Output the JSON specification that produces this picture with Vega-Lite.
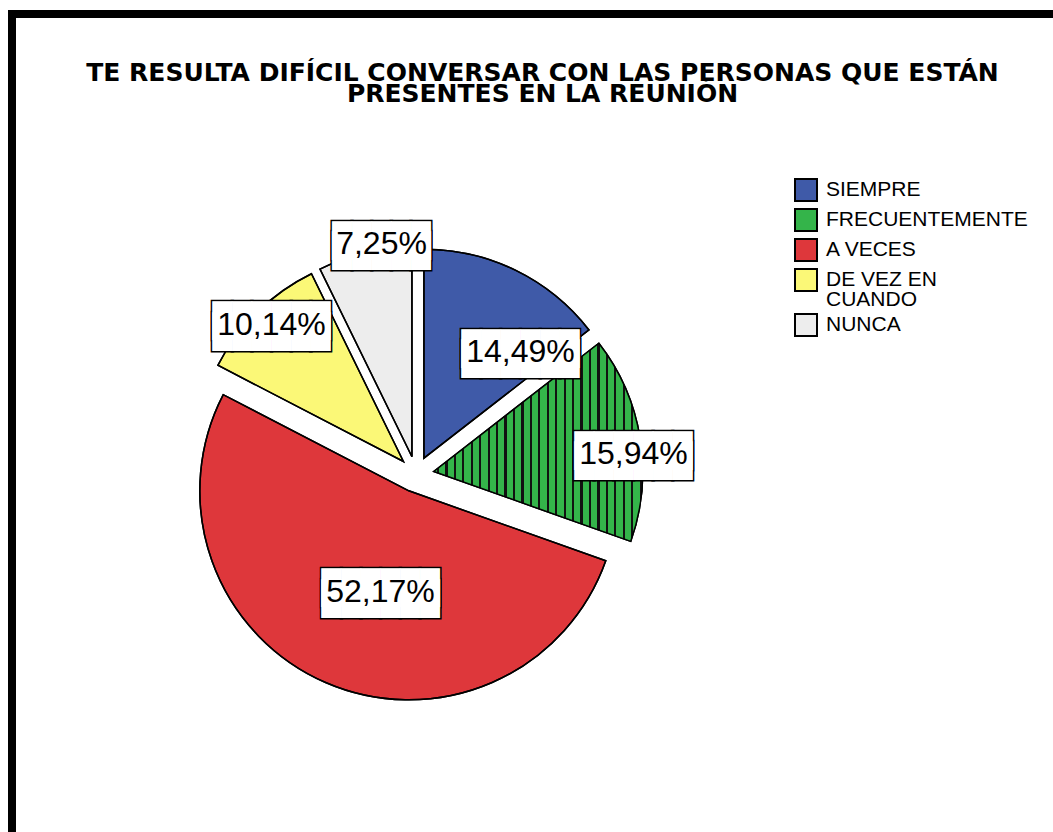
{
  "$schema": "https://vega.github.io/schema/vega-lite/v6.json",
  "width": 1041,
  "height": 818,
  "autosize": {"type": "none"},
  "padding": {"left": 12, "top": 14, "right": 0, "bottom": 0},
  "background": "white",
  "title": {
    "text": ["TE RESULTA DIFÍCIL CONVERSAR CON LAS PERSONAS QUE ESTÁN", "PRESENTES EN LA REUNIÓN"],
    "font": "DejaVu Sans",
    "fontSize": 25,
    "fontWeight": "bold",
    "color": "black",
    "anchor": "middle",
    "frame": "group",
    "baseline": "alphabetic",
    "lineHeight": 21.5,
    "offset": -117,
    "dx": 10
  },
  "data": {
    "values": [
      {"cat": "SIEMPRE", "pct": 14.49, "label": "14,49%", "order": 1},
      {"cat": "FRECUENTEMENTE", "pct": 15.94, "label": "15,94%", "order": 2},
      {"cat": "A VECES", "pct": 52.17, "label": "52,17%", "order": 3},
      {"cat": "DE VEZ EN CUANDO", "pct": 10.14, "label": "10,14%", "order": 4},
      {"cat": "NUNCA", "pct": 7.25, "label": "7,25%", "order": 5}
    ]
  },
  "layer": [
    {
      "mark": {"type": "rect", "fill": "black", "strokeWidth": 0, "x": {"expr": "-4"}, "x2": {"expr": "4"}, "y": {"expr": "-4"}, "y2": {"expr": "height"}},
      "encoding": {}
    },
    {
      "mark": {"type": "rect", "fill": "black", "strokeWidth": 0, "x": {"expr": "-4"}, "x2": {"expr": "width"}, "y": {"expr": "-4"}, "y2": {"expr": "4"}},
      "encoding": {}
    },
    {
      "mark": {
        "type": "arc",
        "radius": 209,
        "stroke": "black",
        "strokeWidth": 1.5,
        "x": {"expr": "404 + 18*sin(PI*(datum.pct_start+datum.pct_end)/99.99)"},
        "y": {"expr": "460.3 - 18*cos(PI*(datum.pct_start+datum.pct_end)/99.99)"}
      },
      "encoding": {
        "theta": {"field": "pct", "type": "quantitative", "stack": true, "scale": {"domain": [0, 99.99]}},
        "order": {"field": "order", "type": "quantitative"},
        "color": {
          "field": "cat",
          "type": "nominal",
          "scale": {
            "domain": ["SIEMPRE", "FRECUENTEMENTE", "A VECES", "DE VEZ EN CUANDO", "NUNCA"],
            "range": ["#3F5AA8", "#34B44A", "#DE373B", "#FBF877", "#EDEDED"]
          },
          "legend": {
            "orient": "none",
            "legendX": 782,
            "legendY": 164,
            "title": null,
            "padding": 0,
            "symbolType": "square",
            "symbolSize": 484,
            "symbolStrokeColor": "black",
            "symbolStrokeWidth": 2,
            "symbolOpacity": 1,
            "labelFont": "Liberation Sans",
            "labelFontSize": 21,
            "labelColor": "black",
            "labelOffset": 8,
            "labelLimit": 400,
            "rowPadding": 0,
            "labelExpr": "datum.label == 'DE VEZ EN CUANDO' ? ['DE VEZ EN', 'CUANDO'] : datum.label"
          }
        }
      }
    },
    {
      "mark": {
        "type": "arc",
        "radius": 209,
        "stroke": "black",
        "strokeWidth": 1.5,
        "x": {"expr": "404 + 18*sin(PI*(datum.pct_start+datum.pct_end)/99.99)"},
        "y": {"expr": "460.3 - 18*cos(PI*(datum.pct_start+datum.pct_end)/99.99)"}
      },
      "encoding": {
        "theta": {"field": "pct", "type": "quantitative", "stack": true, "scale": {"domain": [0, 99.99]}},
        "order": {"field": "order", "type": "quantitative"},
        "detail": {"field": "cat"},
        "fill": {
          "condition": {
            "test": "datum.cat === 'FRECUENTEMENTE'",
            "value": {
              "gradient": "linear", "x1": 0, "y1": 0, "x2": 1, "y2": 0,
              "stops": [
                {"offset": 0, "color": "#34B44A"},
                {"offset": 0.0150, "color": "#34B44A"}, {"offset": 0.0150, "color": "#111111"}, {"offset": 0.0256, "color": "#111111"}, {"offset": 0.0256, "color": "#34B44A"},
                {"offset": 0.0554, "color": "#34B44A"}, {"offset": 0.0554, "color": "#111111"}, {"offset": 0.0660, "color": "#111111"}, {"offset": 0.0660, "color": "#34B44A"},
                {"offset": 0.0958, "color": "#34B44A"}, {"offset": 0.0958, "color": "#111111"}, {"offset": 0.1064, "color": "#111111"}, {"offset": 0.1064, "color": "#34B44A"},
                {"offset": 0.1362, "color": "#34B44A"}, {"offset": 0.1362, "color": "#111111"}, {"offset": 0.1468, "color": "#111111"}, {"offset": 0.1468, "color": "#34B44A"},
                {"offset": 0.1766, "color": "#34B44A"}, {"offset": 0.1766, "color": "#111111"}, {"offset": 0.1872, "color": "#111111"}, {"offset": 0.1872, "color": "#34B44A"},
                {"offset": 0.2170, "color": "#34B44A"}, {"offset": 0.2170, "color": "#111111"}, {"offset": 0.2276, "color": "#111111"}, {"offset": 0.2276, "color": "#34B44A"},
                {"offset": 0.2574, "color": "#34B44A"}, {"offset": 0.2574, "color": "#111111"}, {"offset": 0.2680, "color": "#111111"}, {"offset": 0.2680, "color": "#34B44A"},
                {"offset": 0.2978, "color": "#34B44A"}, {"offset": 0.2978, "color": "#111111"}, {"offset": 0.3084, "color": "#111111"}, {"offset": 0.3084, "color": "#34B44A"},
                {"offset": 0.3382, "color": "#34B44A"}, {"offset": 0.3382, "color": "#111111"}, {"offset": 0.3488, "color": "#111111"}, {"offset": 0.3488, "color": "#34B44A"},
                {"offset": 0.3786, "color": "#34B44A"}, {"offset": 0.3786, "color": "#111111"}, {"offset": 0.3892, "color": "#111111"}, {"offset": 0.3892, "color": "#34B44A"},
                {"offset": 0.4190, "color": "#34B44A"}, {"offset": 0.4190, "color": "#111111"}, {"offset": 0.4296, "color": "#111111"}, {"offset": 0.4296, "color": "#34B44A"},
                {"offset": 0.4594, "color": "#34B44A"}, {"offset": 0.4594, "color": "#111111"}, {"offset": 0.4700, "color": "#111111"}, {"offset": 0.4700, "color": "#34B44A"},
                {"offset": 0.4998, "color": "#34B44A"}, {"offset": 0.4998, "color": "#111111"}, {"offset": 0.5104, "color": "#111111"}, {"offset": 0.5104, "color": "#34B44A"},
                {"offset": 0.5402, "color": "#34B44A"}, {"offset": 0.5402, "color": "#111111"}, {"offset": 0.5508, "color": "#111111"}, {"offset": 0.5508, "color": "#34B44A"},
                {"offset": 0.5806, "color": "#34B44A"}, {"offset": 0.5806, "color": "#111111"}, {"offset": 0.5912, "color": "#111111"}, {"offset": 0.5912, "color": "#34B44A"},
                {"offset": 0.6210, "color": "#34B44A"}, {"offset": 0.6210, "color": "#111111"}, {"offset": 0.6316, "color": "#111111"}, {"offset": 0.6316, "color": "#34B44A"},
                {"offset": 0.6614, "color": "#34B44A"}, {"offset": 0.6614, "color": "#111111"}, {"offset": 0.6720, "color": "#111111"}, {"offset": 0.6720, "color": "#34B44A"},
                {"offset": 0.7018, "color": "#34B44A"}, {"offset": 0.7018, "color": "#111111"}, {"offset": 0.7124, "color": "#111111"}, {"offset": 0.7124, "color": "#34B44A"},
                {"offset": 0.7422, "color": "#34B44A"}, {"offset": 0.7422, "color": "#111111"}, {"offset": 0.7528, "color": "#111111"}, {"offset": 0.7528, "color": "#34B44A"},
                {"offset": 0.7826, "color": "#34B44A"}, {"offset": 0.7826, "color": "#111111"}, {"offset": 0.7932, "color": "#111111"}, {"offset": 0.7932, "color": "#34B44A"},
                {"offset": 0.8230, "color": "#34B44A"}, {"offset": 0.8230, "color": "#111111"}, {"offset": 0.8336, "color": "#111111"}, {"offset": 0.8336, "color": "#34B44A"},
                {"offset": 0.8634, "color": "#34B44A"}, {"offset": 0.8634, "color": "#111111"}, {"offset": 0.8740, "color": "#111111"}, {"offset": 0.8740, "color": "#34B44A"},
                {"offset": 0.9038, "color": "#34B44A"}, {"offset": 0.9038, "color": "#111111"}, {"offset": 0.9144, "color": "#111111"}, {"offset": 0.9144, "color": "#34B44A"},
                {"offset": 0.9442, "color": "#34B44A"}, {"offset": 0.9442, "color": "#111111"}, {"offset": 0.9548, "color": "#111111"}, {"offset": 0.9548, "color": "#34B44A"},
                {"offset": 0.9846, "color": "#34B44A"}, {"offset": 0.9846, "color": "#111111"}, {"offset": 0.9952, "color": "#111111"}, {"offset": 0.9952, "color": "#34B44A"},
                {"offset": 1, "color": "#34B44A"}
              ]
            }
          },
          "value": "transparent"
        }
      }
    },
    {
      "mark": {
        "type": "text",
        "font": "DejaVu Sans Mono",
        "fontSize": 32.7,
        "lineHeight": 10.2,
        "align": "center",
        "baseline": "middle",
        "fill": "white",
        "stroke": "black",
        "strokeWidth": 3,
        "x": 404,
        "y": 460.3,
        "text": {"expr": "[pad('', length(datum.label), '█'), pad('', length(datum.label), '█')]"},
        "radius": {"expr": "[155.7, 217.9, 122.2, 207.7, 232][datum.order - 1]"},
        "dx": {"expr": "[36, 2.3, 13.2, 0.7, 17.9][datum.order - 1]"},
        "dy": {"expr": "[15.1, 11.8, 3.1, -3.3, -6.7][datum.order - 1]"}
      },
      "encoding": {
        "theta": {"field": "pct", "type": "quantitative", "stack": true, "scale": {"domain": [0, 99.99]}},
        "order": {"field": "order", "type": "quantitative"},
        "detail": {"field": "cat"}
      }
    },
    {
      "mark": {
        "type": "text",
        "font": "DejaVu Sans Mono",
        "fontSize": 32.7,
        "lineHeight": 10.2,
        "align": "center",
        "baseline": "middle",
        "fill": "white",
        "x": 404,
        "y": 460.3,
        "text": {"expr": "[pad('', length(datum.label), '█'), pad('', length(datum.label), '█')]"},
        "radius": {"expr": "[155.7, 217.9, 122.2, 207.7, 232][datum.order - 1]"},
        "dx": {"expr": "[36, 2.3, 13.2, 0.7, 17.9][datum.order - 1]"},
        "dy": {"expr": "[15.1, 11.8, 3.1, -3.3, -6.7][datum.order - 1]"}
      },
      "encoding": {
        "theta": {"field": "pct", "type": "quantitative", "stack": true, "scale": {"domain": [0, 99.99]}},
        "order": {"field": "order", "type": "quantitative"},
        "detail": {"field": "cat"}
      }
    },
    {
      "mark": {
        "type": "text",
        "font": "Liberation Sans",
        "fontSize": 32,
        "align": "center",
        "baseline": "middle",
        "fill": "black",
        "x": 404,
        "y": 460.3,
        "radius": {"expr": "[155.7, 217.9, 122.2, 207.7, 232][datum.order - 1]"},
        "dx": {"expr": "[36, 2.3, 13.2, 0.7, 17.9][datum.order - 1]"},
        "dy": {"expr": "[17.7, 14.4, 5.7, -0.7, -4.1][datum.order - 1]"}
      },
      "encoding": {
        "theta": {"field": "pct", "type": "quantitative", "stack": true, "scale": {"domain": [0, 99.99]}},
        "order": {"field": "order", "type": "quantitative"},
        "detail": {"field": "cat"},
        "text": {"field": "label"}
      }
    }
  ],
  "config": {
    "view": {"stroke": "transparent", "strokeWidth": 0, "fill": "white"},
    "style": {"guide-label": {"lineHeight": 20}}
  }
}
